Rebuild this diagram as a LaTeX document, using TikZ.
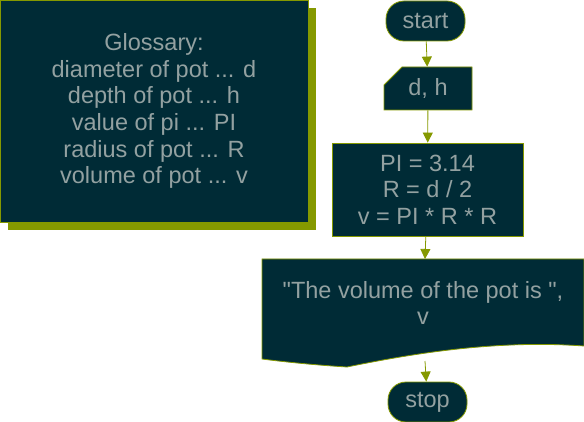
\documentclass[tikz,border=0pt]{standalone}
\usepackage{fontspec}
\setmainfont{Liberation Sans}
\usetikzlibrary{arrows.meta,shapes.misc,shadows}
\definecolor{base}{HTML}{002B36}
\definecolor{ink}{HTML}{93A1A1}
\definecolor{olive}{HTML}{859900}
\tikzset{
  box/.style={draw=olive, line width=0.8pt, fill=base, text=ink, align=center, inner sep=0pt,
    font=\fontsize{23.5}{26.7}\selectfont},
  term/.style={box, rounded corners=18pt, minimum width=79pt, minimum height=40pt},
  flow/.style={draw=olive, line width=0.8pt, -{Triangle[length=10pt,width=10pt]}},
}
\begin{document}
\begin{tikzpicture}[x=1pt,y=-1pt]
\useasboundingbox (0,0) rectangle (584,422);
\node(gloss) at (154,111) [box, minimum width=308pt, minimum height=222pt,
  general shadow={fill=olive, shadow xshift=8pt, shadow yshift=-8pt}]
  {Glossary:\\diameter of pot ... d\\depth of pot ... h\\value of pi ... PI\\radius of pot ... R\\volume of pot ... v};
\node(start) at (425.5,21) [term]{start};
\node(dh) at (428,88.5) [box, chamfered rectangle, chamfered rectangle corners=north west,
  chamfered rectangle xsep=17pt, chamfered rectangle ysep=8pt, minimum width=88pt, minimum height=43pt]{d, h};
\node(calc) at (427.5,189.5) [box, minimum width=191pt, minimum height=93pt]{PI = 3.14\\R = d / 2\\v = PI * R * R};
% output document shape
\filldraw[draw=olive, line width=0.8pt, fill=base] (262,259) -- (584,259) -- (584,346)
  .. controls (500,340) and (420,352) .. (347,367)
  .. controls (315,365) and (285,362) .. (262,359) -- cycle;
\node(out) at (423,303) [text=ink, align=center, font=\fontsize{23.5}{26.7}\selectfont]
  {\textquotedbl The volume of the pot is \textquotedbl,\\v};
\coordinate(outtop) at (425,259);
\coordinate(outbot) at (425,361);
\node(stop) at (427.5,402) [term]{stop};

\draw [flow] (start) -- (dh);
\draw [flow] (dh) -- (calc);
\draw [flow] (calc) -- (outtop);
\draw [flow] (outbot) -- (stop);
\end{tikzpicture}
\end{document}
